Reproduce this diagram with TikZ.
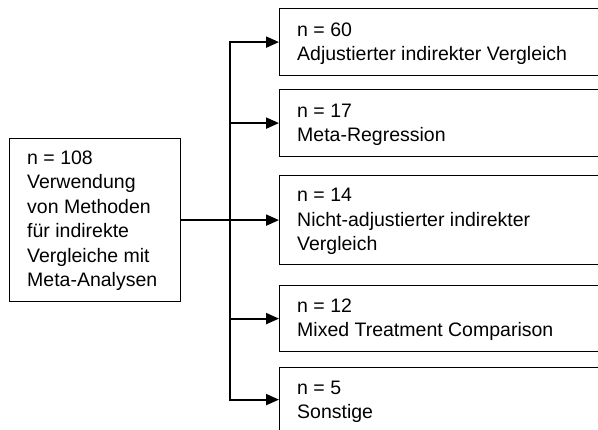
\documentclass[tikz,border=0pt]{standalone}
\usepackage{fontspec}
\setmainfont{Liberation Sans}
\usetikzlibrary{arrows.meta}
\begin{document}
\begin{tikzpicture}[x=1pt,y=-1pt,
  box/.style={draw, line width=1.2pt, rectangle, inner sep=0pt, anchor=north west},
  txt/.style={anchor=base west, inner sep=0pt, align=left, font=\fontsize{19.5}{24.5}\selectfont},
  conn/.style={line width=2pt},
  arr/.style={conn, -{Triangle[length=13pt,width=11pt]}}]
\useasboundingbox (0,0) rectangle (598,430);
\clip (0,0) rectangle (598,430);
% boxes
\node[box, minimum width=171pt, minimum height=163pt] (L) at (9,138) {};
\node[box, minimum width=340pt, minimum height=67pt] (B1) at (279,8) {};
\node[box, minimum width=340pt, minimum height=67pt] (B2) at (279,89) {};
\node[box, minimum width=340pt, minimum height=89pt] (B3) at (279,175) {};
\node[box, minimum width=340pt, minimum height=66pt] (B4) at (279,285) {};
\node[box, minimum width=340pt, minimum height=64pt] (B5) at (279,367) {};
% texts (anchored at the baseline of their last line)
\node[txt] (tL) at (27,287) {n = 108\\Verwendung\\von Methoden\\für indirekte\\Vergleiche mit\\Meta-Analysen};
\node[txt] (t1) at (297,61) {n = 60\\Adjustierter indirekter Vergleich};
\node[txt] (t2) at (297,142) {n = 17\\Meta-Regression};
\node[txt] (t3) at (297,251) {n = 14\\Nicht-adjustierter indirekter\\Vergleich};
\node[txt] (t4) at (297,337) {n = 12\\Mixed Treatment Comparison};
\node[txt] (t5) at (297,419) {n = 5\\Sonstige};
% connectors
\coordinate (tx) at (230,0);
\draw[conn, line cap=rect] (B1.west -| tx) -- (B5.west -| tx);
\draw[arr] (L.east) -- (B3.west);
\draw[arr] (B1.west -| tx) -- (B1.west);
\draw[arr] (B2.west -| tx) -- (B2.west);
\draw[arr] (B4.west -| tx) -- (B4.west);
\draw[arr] (B5.west -| tx) -- (B5.west);
\end{tikzpicture}
\end{document}
